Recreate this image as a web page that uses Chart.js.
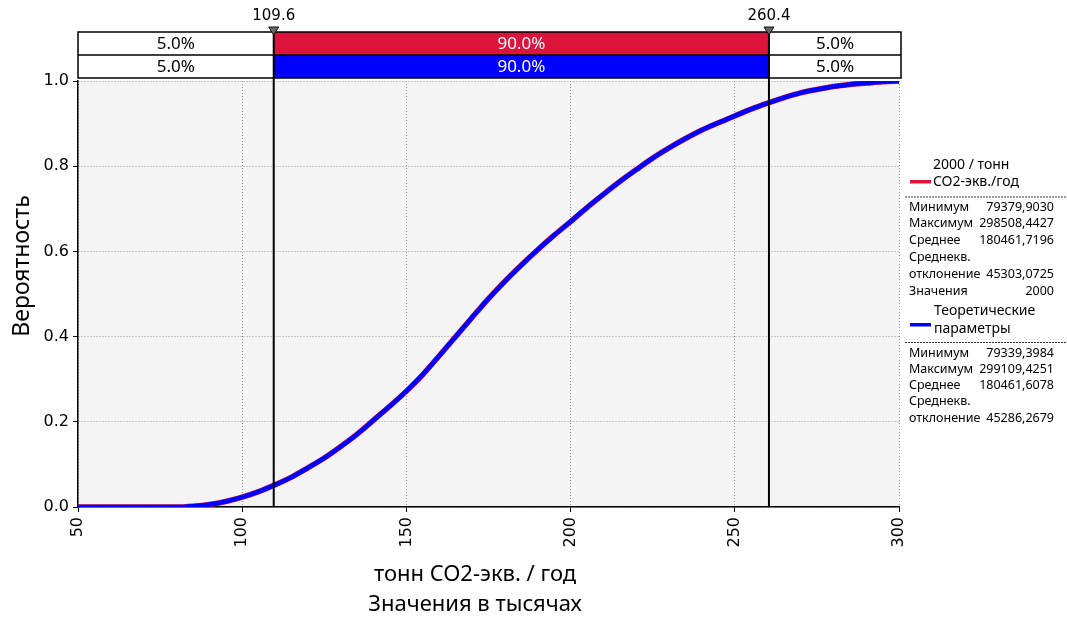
<!DOCTYPE html>
<html><head><meta charset="utf-8">
<script src="https://cdn.jsdelivr.net/npm/chart.js@4.4.1/dist/chart.umd.min.js"></script>
<style>html,body{margin:0;padding:0;background:#fff;} canvas{display:block;}</style>
</head><body>
<canvas id="c" width="1067" height="618"></canvas>
<script>
const xValues = [50, 60, 70, 80, 85, 90, 95, 100, 105, 110, 115, 120, 125, 130, 135, 140, 145, 150, 155, 160, 165, 170, 175, 180, 185, 190, 195, 200, 205, 210, 215, 220, 225, 230, 235, 240, 245, 250, 255, 260, 265, 270, 275, 280, 285, 290, 295, 300];
const simulatedProb = [0, 0, 0, 0, 0.002, 0.006, 0.013, 0.023, 0.036, 0.052, 0.070, 0.092, 0.115, 0.142, 0.171, 0.204, 0.237, 0.272, 0.311, 0.355, 0.400, 0.445, 0.489, 0.530, 0.568, 0.604, 0.638, 0.670, 0.703, 0.734, 0.764, 0.792, 0.819, 0.843, 0.865, 0.885, 0.902, 0.918, 0.934, 0.948, 0.961, 0.972, 0.980, 0.987, 0.992, 0.995, 0.998, 1.000];
const theoreticalProb = [0, 0, 0, 0, 0.002, 0.006, 0.013, 0.023, 0.036, 0.052, 0.070, 0.092, 0.115, 0.142, 0.171, 0.204, 0.237, 0.272, 0.311, 0.355, 0.400, 0.445, 0.489, 0.530, 0.568, 0.604, 0.638, 0.670, 0.703, 0.734, 0.764, 0.792, 0.819, 0.843, 0.865, 0.885, 0.902, 0.918, 0.934, 0.948, 0.961, 0.972, 0.980, 0.987, 0.992, 0.995, 0.998, 1.000];
const cutoffs = [109.6, 260.4];
const cutoffLabels = ['109.6', '260.4'];
const simShares = ['5.0%', '90.0%', '5.0%'];
const theoShares = ['5.0%', '90.0%', '5.0%'];
const seriesNames = [['2000 / тонн', 'CO2-экв./год'], ['Теоретические', 'параметры']];
const simStatsLabels = ['Минимум', 'Максимум', 'Среднее', 'Среднекв.', 'отклонение', 'Значения'];
const simStatsValues = ['79379,9030', '298508,4427', '180461,7196', '', '45303,0725', '2000'];
const theoStatsLabels = ['Минимум', 'Максимум', 'Среднее', 'Среднекв.', 'отклонение'];
const theoStatsValues = ['79339,3984', '299109,4251', '180461,6078', '', '45286,2679'];
const xTitle = ['тонн CO2-экв. / год', 'Значения в тысячах'];
const yTitle = 'Вероятность';

const RED = '#DC143C', BLUE = '#0000FF';
const TXT = '"Noto Sans", "Open Sans", sans-serif';

const bgPlugin = {
  id: 'bg',
  beforeDraw(chart) {
    const {ctx, chartArea: a} = chart;
    ctx.save();
    ctx.fillStyle = '#fff';
    ctx.fillRect(0, 0, chart.width, chart.height);
    ctx.fillStyle = '#f4f4f4';
    ctx.fillRect(a.left, a.top, a.right - a.left, a.bottom - a.top);
    ctx.restore();
  }
};

const overlayPlugin = {
  id: 'overlay',
  afterDraw(chart) {
    const {ctx, chartArea: a} = chart;
    const xs = chart.scales.x;
    const p1 = xs.getPixelForValue(cutoffs[0]);
    const p2 = xs.getPixelForValue(cutoffs[1]);
    const L = a.left, R = a.right + 2, T = 32, M = 55, B = 78;
    ctx.save();
    ctx.fillStyle = '#fff';
    ctx.fillRect(L, T, R - L, B - T);
    ctx.fillStyle = RED;
    ctx.fillRect(p1, T, p2 - p1, M - T);
    ctx.fillStyle = BLUE;
    ctx.fillRect(p1, M, p2 - p1, B - M);
    ctx.strokeStyle = '#000';
    ctx.lineWidth = 1.5;
    ctx.strokeRect(L, T, R - L, B - T);
    ctx.beginPath(); ctx.moveTo(L, M); ctx.lineTo(R, M); ctx.stroke();
    ctx.font = '17px ' + TXT;
    ctx.textAlign = 'center';
    ctx.textBaseline = 'middle';
    const segs = [[L, p1], [p1, p2], [p2, R]];
    [simShares, theoShares].forEach((row, ri) => {
      const cy = ri === 0 ? (T + M) / 2 + 1 : (M + B) / 2 + 1;
      row.forEach((t, i) => {
        ctx.fillStyle = i === 1 ? '#fff' : '#000';
        ctx.fillText(t, (segs[i][0] + segs[i][1]) / 2, cy);
      });
    });
    ctx.strokeStyle = '#000';
    ctx.lineWidth = 2;
    [p1, p2].forEach(p => {
      ctx.beginPath(); ctx.moveTo(p, T); ctx.lineTo(p, a.bottom); ctx.stroke();
    });
    ctx.font = '15px "DejaVu Sans", sans-serif';
    ctx.textBaseline = 'middle';
    [p1, p2].forEach((p, i) => {
      ctx.fillStyle = '#666';
      ctx.beginPath(); ctx.moveTo(p - 5, 27); ctx.lineTo(p + 5, 27); ctx.lineTo(p, 35); ctx.closePath(); ctx.fill();
      ctx.strokeStyle = '#111'; ctx.lineWidth = 1; ctx.stroke();
      ctx.fillStyle = '#000';
      ctx.fillText(cutoffLabels[i], p, 16);
    });
    ctx.font = '22px ' + TXT;
    ctx.fillStyle = '#000';
    ctx.textAlign = 'center';
    ctx.fillText(xTitle[0], 475, 575);
    ctx.fillText(xTitle[1], 475, 605);
    ctx.save();
    ctx.translate(22, 266);
    ctx.rotate(-Math.PI / 2);
    ctx.font = '23px ' + TXT;
    ctx.fillText(yTitle, 0, 0);
    ctx.restore();
    const lx = 909, vx = 1054;
    ctx.font = '14px ' + TXT;
    ctx.textAlign = 'left';
    ctx.fillText(seriesNames[0][0], 933, 165);
    ctx.fillText(seriesNames[0][1], 933, 182);
    ctx.fillStyle = RED; ctx.fillRect(910, 180, 21, 3.5);
    ctx.strokeStyle = '#999'; ctx.lineWidth = 2; ctx.setLineDash([2, 1]);
    ctx.beginPath(); ctx.moveTo(905, 197); ctx.lineTo(1067, 197); ctx.stroke();
    ctx.setLineDash([]);
    ctx.font = '12.5px ' + TXT;
    simStatsLabels.forEach((t, i) => {
      const y = 207 + i * 16.8;
      ctx.fillStyle = '#000';
      ctx.textAlign = 'left'; ctx.fillText(t, lx, y);
      ctx.textAlign = 'right'; ctx.fillText(simStatsValues[i], vx, y);
    });
    ctx.font = '14px ' + TXT;
    ctx.textAlign = 'left';
    ctx.fillStyle = '#000';
    ctx.fillText(seriesNames[1][0], 934, 311);
    ctx.fillText(seriesNames[1][1], 934, 329);
    ctx.fillStyle = BLUE; ctx.fillRect(910, 323, 21, 3.5);
    ctx.strokeStyle = '#333'; ctx.lineWidth = 1; ctx.setLineDash([2, 1]);
    ctx.beginPath(); ctx.moveTo(905, 342.5); ctx.lineTo(1067, 342.5); ctx.stroke();
    ctx.setLineDash([]);
    ctx.font = '12.5px ' + TXT;
    theoStatsLabels.forEach((t, i) => {
      const y = 353 + i * 16.3;
      ctx.fillStyle = '#000';
      ctx.textAlign = 'left'; ctx.fillText(t, lx, y);
      ctx.textAlign = 'right'; ctx.fillText(theoStatsValues[i], vx, y);
    });
    ctx.restore();
  }
};

new Chart(document.getElementById('c'), {
  type: 'line',
  data: {
    datasets: [
      {
        label: seriesNames[1].join(' '),
        data: xValues.map((x, i) => ({x, y: theoreticalProb[i]})),
        borderColor: BLUE, borderWidth: 4.5, pointRadius: 0, cubicInterpolationMode: 'monotone', order: 1
      },
      {
        label: seriesNames[0].join(' '),
        data: xValues.map((x, i) => ({x, y: simulatedProb[i]})),
        borderColor: RED, borderWidth: 5.5, pointRadius: 0, cubicInterpolationMode: 'monotone', order: 2
      }
    ]
  },
  options: {
    responsive: false,
    animation: false,
    devicePixelRatio: 1,
    layout: {padding: {top: 81, right: 168, left: 0, bottom: 0}},
    plugins: {legend: {display: false}, tooltip: {enabled: false}},
    scales: {
      x: {
        type: 'linear', min: 50, max: 300,
        afterFit(s) { s.height = 111; },
        ticks: {stepSize: 50, minRotation: 90, maxRotation: 90, padding: 5, color: '#000',
          font: {family: 'DejaVu Sans', size: 16}},
        grid: {color: '#9a9a9a', lineWidth: 1, tickLength: 5, tickColor: '#000', tickBorderDash: [], tickWidth: 1},
        border: {display: true, color: '#000', width: 1.5, dash: [1, 2]}
      },
      y: {
        min: 0, max: 1,
        afterFit(s) { s.width = 78; },
        ticks: {stepSize: 0.2, padding: 4, color: '#000', font: {family: 'DejaVu Sans', size: 16},
          callback: v => v.toFixed(1)},
        grid: {color: '#9a9a9a', lineWidth: 1, tickLength: 5, tickColor: '#000', tickBorderDash: [], tickWidth: 1},
        border: {display: true, color: '#000', width: 1.5, dash: [1, 2]}
      }
    }
  },
  plugins: [bgPlugin, overlayPlugin]
});
</script>
</body></html>
